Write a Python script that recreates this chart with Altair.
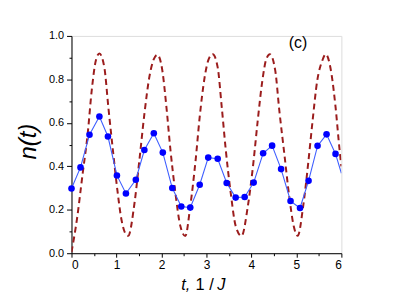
import altair as alt
import pandas as pd

# Blue series (symbols + thin line)
t_pts = [0.00, 0.20, 0.40, 0.62, 0.81, 1.01, 1.21, 1.43, 1.62, 1.83, 2.03, 2.24,
         2.44, 2.64, 2.85, 3.04, 3.25, 3.45, 3.65, 3.85, 4.05, 4.26, 4.46, 4.66,
         4.87, 5.08, 5.27, 5.47, 5.67, 5.87]
n_pts = [0.298, 0.395, 0.545, 0.629, 0.537, 0.358, 0.275, 0.338, 0.475, 0.552,
         0.463, 0.300, 0.215, 0.210, 0.315, 0.440, 0.435, 0.323, 0.256, 0.259,
         0.325, 0.460, 0.495, 0.387, 0.240, 0.208, 0.333, 0.494, 0.547, 0.457]
# line continues to the right edge
t_line_end = [6.00]
n_line_end = [0.368]

# Dashed dark-red series
t_dash = [0.00, 0.12, 0.25, 0.36, 0.45, 0.54, 0.62, 0.73, 0.82, 0.92, 1.02, 1.11,
          1.21, 1.26, 1.40, 1.51, 1.62, 1.73, 1.83, 1.91, 2.02, 2.11, 2.20, 2.31,
          2.42, 2.53, 2.64, 2.76, 2.85, 2.96, 3.05, 3.14, 3.25, 3.34, 3.43, 3.54,
          3.65, 3.78, 3.92, 4.04, 4.14, 4.24, 4.33, 4.41, 4.53, 4.62, 4.73, 4.84,
          4.94, 5.03, 5.15, 5.26, 5.36, 5.46, 5.58, 5.65, 5.78, 5.87, 5.96, 6.00]
n_dash = [0.005, 0.155, 0.370, 0.550, 0.750, 0.886, 0.919, 0.855, 0.670, 0.475, 0.290, 0.155,
          0.087, 0.080, 0.230, 0.430, 0.640, 0.810, 0.893, 0.913, 0.840, 0.673, 0.475, 0.277,
          0.125, 0.079, 0.216, 0.430, 0.627, 0.810, 0.893, 0.916, 0.855, 0.673, 0.475, 0.277,
          0.125, 0.079, 0.216, 0.410, 0.610, 0.790, 0.893, 0.916, 0.840, 0.657, 0.460, 0.262,
          0.125, 0.080, 0.216, 0.410, 0.610, 0.790, 0.889, 0.916, 0.825, 0.673, 0.475, 0.400]

x_major = [0, 1, 2, 3, 4, 5, 6]
x_minor = [0.5, 1.5, 2.5, 3.5, 4.5, 5.5]
y_major = [0.0, 0.2, 0.4, 0.6, 0.8, 1.0]
y_minor = [0.1, 0.3, 0.5, 0.7, 0.9]

FONT = "Liberation Sans"

pts_df = pd.DataFrame({"t": t_pts, "n": n_pts})
line_df = pd.DataFrame({"t": t_pts + t_line_end, "n": n_pts + n_line_end})
dash_df = pd.DataFrame({"t": t_dash, "n": n_dash})

xs = alt.Scale(domain=[0, 6], nice=False, zero=False)
ys = alt.Scale(domain=[0, 1], nice=False, zero=False)

x_axis_major = alt.Axis(values=x_major, format="d", title=None, grid=False,
                        tickSize=4, labelPadding=2, labelFontSize=12,
                        labelFont=FONT, labelFontWeight="normal", labelColor="black",
                        domainColor="black", tickColor="black", orient="bottom")
y_axis_major = alt.Axis(values=y_major, format=".1f", title="n(t)", grid=False,
                        tickSize=5, labelPadding=3, labelFontSize=11,
                        labelFont=FONT, labelFontWeight="normal", labelColor="black",
                        domainColor="black", tickColor="black", orient="left",
                        titleFont=FONT, titleFontSize=24, titleFontStyle="italic",
                        titleFontWeight="normal", titleColor="black",
                        titleAngle=270, titleBaseline="alphabetic",
                        titleX=-36, titleY=106, titleAlign="center")
x_axis_minor = alt.Axis(values=x_minor, labels=False, domain=False, title=None,
                        grid=False, tickSize=2.5, tickColor="black", orient="bottom")
y_axis_minor = alt.Axis(values=y_minor, labels=False, domain=False, title=None,
                        grid=False, tickSize=2.5, tickColor="black", orient="left")

dash = alt.Chart(dash_df).mark_line(
    color="#9b1c1c", strokeWidth=2, strokeDash=[6, 4], interpolate="monotone", clip=True
).encode(
    x=alt.X("t:Q", scale=xs, axis=x_axis_minor),
    y=alt.Y("n:Q", scale=ys, axis=y_axis_minor),
)

line = alt.Chart(line_df).mark_line(color="#3f5fff", strokeWidth=1.1, clip=True).encode(
    x=alt.X("t:Q", scale=xs, axis=x_axis_major),
    y=alt.Y("n:Q", scale=ys, axis=y_axis_major),
)

pts = alt.Chart(pts_df).mark_circle(color="#0000ff", opacity=1, size=44).encode(
    x=alt.X("t:Q", scale=xs, axis=None),
    y=alt.Y("n:Q", scale=ys, axis=None),
)

one = pd.DataFrame({"a": [0]})


def label(txt, x, y, size, style="normal"):
    return alt.Chart(one).mark_text(
        text=txt, font=FONT, fontSize=size, fontStyle=style, fontWeight="normal",
        color="black", align="left", baseline="alphabetic"
    ).encode(x=alt.value(x), y=alt.value(y))


xt1 = label("t,", 110.5, 256, 16.5, "italic")
xt2 = label("1 /", 125, 256, 16.5)
xt3 = label("J", 147, 256, 16.5, "italic")
tag = label("(c)", 219, 12, 16)

chart = alt.layer(dash, line, pts, xt1, xt2, xt3, tag).resolve_axis(
    x="independent", y="independent"
).properties(
    width=272, height=219,
    padding={"left": 64, "top": 27, "right": 50, "bottom": 45},
    autosize=alt.AutoSizeParams(type="none"),
).configure_view(stroke=None).configure(background="white")

chart.save("out.html", embed_options={"renderer": "svg", "actions": False})
